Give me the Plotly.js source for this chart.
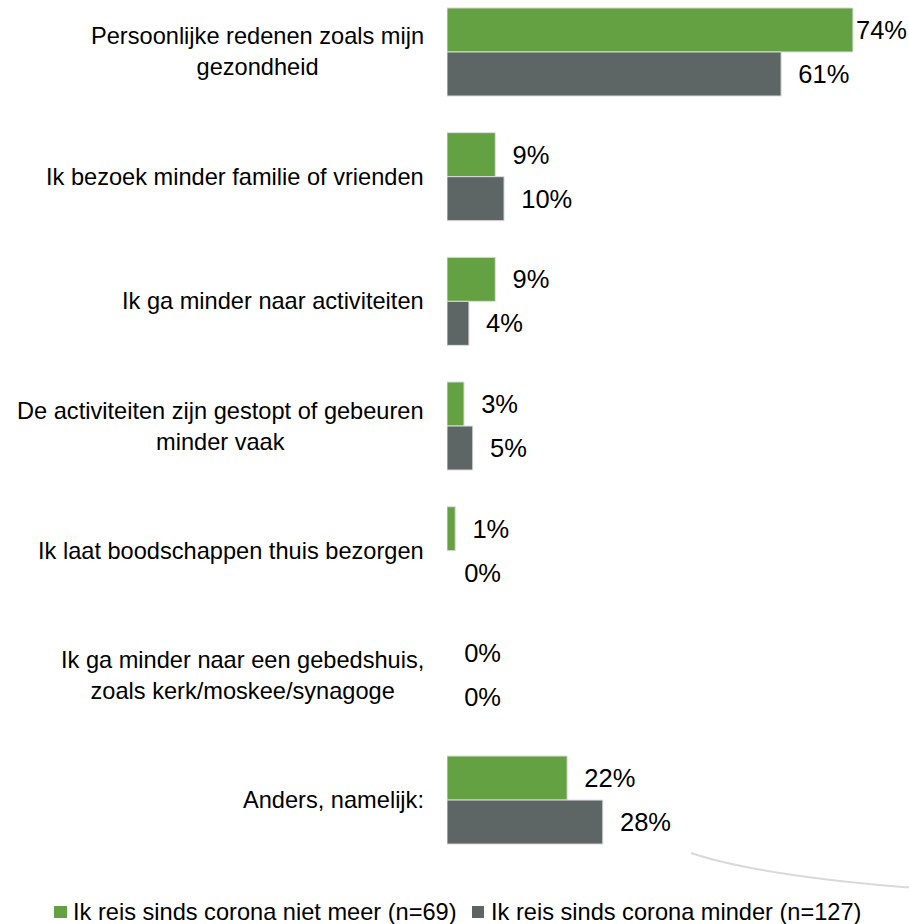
<!DOCTYPE html>
<html>
<head>
<meta charset="utf-8">
<script src="https://cdn.plot.ly/plotly-3.0.1.min.js"></script>
<style>html,body{margin:0;padding:0;background:#fff;}#chart{width:909px;height:924px;}</style>
</head>
<body>
<div id="chart"></div>
<script>
// ---- data ----
const categories = [
  'Persoonlijke redenen zoals mijn<br>gezondheid',
  'Ik bezoek minder familie of vrienden',
  'Ik ga minder naar activiteiten',
  'De activiteiten zijn gestopt of gebeuren<br>minder vaak',
  'Ik laat boodschappen thuis bezorgen',
  'Ik ga minder naar een gebedshuis,<br>zoals kerk/moskee/synagoge',
  'Anders, namelijk:'
];
const seriesNames = ['Ik reis sinds corona niet meer (n=69)', 'Ik reis sinds corona minder (n=127)'];
const nietMeer = [74, 8.8, 8.8, 3.1, 1.5, 0, 21.9];
const minder = [60.9, 10.4, 4.0, 4.7, 0, 0, 28.4];
const nietMeerLabels = ['74%', '9%', '9%', '3%', '1%', '0%', '22%'];
const minderLabels = ['61%', '10%', '4%', '5%', '0%', '0%', '28%'];

// ---- styles / layout ----
const colors = ['#64A142', '#5D6664'];
const W = 909, H = 924;
const M = {l: 447, r: 0, t: 0, b: 54};
const plotW = W - M.l - M.r, plotH = H - M.t - M.b;
const px = x => (x - M.l) / plotW;
const py = y => (plotH - (y - M.t)) / plotH;
const FONT = 'Liberation Sans, Arial, sans-serif';
const fs = 23.6;
const lfs = 25.5;

function pad(vals, labels) {
  return labels.map((l, i) => (vals[i] > 70 ? '' : '\u00a0\u00a0') + l);
}
function mk(vals, color) {
  return {color: color, line: {color: '#dcdcdc', width: vals.map(v => v > 0 ? 1 : 0)}};
}

const traces = [
  {type: 'bar', orientation: 'h', name: seriesNames[0], y: categories, x: nietMeer,
   text: pad(nietMeer, nietMeerLabels), textposition: 'outside', cliponaxis: false, constraintext: 'none',
   textfont: {family: FONT, size: lfs, color: '#000'},
   marker: mk(nietMeer, colors[0]), hoverinfo: 'none'},
  {type: 'bar', orientation: 'h', name: seriesNames[1], y: categories, x: minder,
   text: pad(minder, minderLabels), textposition: 'outside', cliponaxis: false, constraintext: 'none',
   textfont: {family: FONT, size: lfs, color: '#000'},
   marker: mk(minder, colors[1]), hoverinfo: 'none'}
];

const annotations = categories.map(c => ({
  xref: 'paper', yref: 'y', x: px(426), y: c, xanchor: 'right', yanchor: 'middle',
  align: 'center', showarrow: false, text: c,
  font: {family: FONT, size: fs, color: '#000'}
}));
// custom legend text
annotations.push({xref: 'paper', yref: 'paper', x: px(71), y: py(912), xanchor: 'left', yanchor: 'middle',
  showarrow: false, text: seriesNames[0], font: {family: FONT, size: fs, color: '#000'}});
annotations.push({xref: 'paper', yref: 'paper', x: px(489), y: py(912), xanchor: 'left', yanchor: 'middle',
  showarrow: false, text: seriesNames[1], font: {family: FONT, size: fs, color: '#000'}});

const shapes = [
  {type: 'rect', xref: 'paper', yref: 'paper', x0: px(54), x1: px(67), y0: py(918), y1: py(906),
   fillcolor: colors[0], line: {width: 0}},
  {type: 'rect', xref: 'paper', yref: 'paper', x0: px(472), x1: px(484), y0: py(918), y1: py(906),
   fillcolor: colors[1], line: {width: 0}},
  {type: 'path', xref: 'paper', yref: 'paper',
   path: `M ${px(691)},${py(853)} Q ${px(760)},${py(876)} ${px(915)},${py(888)}`,
   line: {color: '#d9d9d9', width: 2}}
];

const layout = {
  width: W, height: H,
  margin: M,
  paper_bgcolor: '#fff', plot_bgcolor: '#fff',
  barmode: 'group', bargap: 0.294, bargroupgap: 0,
  showlegend: false,
  xaxis: {range: [0, plotW / 5.486], visible: false, showgrid: false, zeroline: false, fixedrange: true},
  yaxis: {type: 'category', categoryorder: 'array', categoryarray: categories,
          range: [6.561, -0.417], showticklabels: false, showgrid: false, zeroline: false,
          showline: false, ticks: '', fixedrange: true},
  annotations: annotations,
  shapes: shapes,
  font: {family: FONT, size: fs, color: '#000'}
};

Plotly.newPlot('chart', traces, layout, {displayModeBar: false, staticPlot: true});
</script>
</body>
</html>
